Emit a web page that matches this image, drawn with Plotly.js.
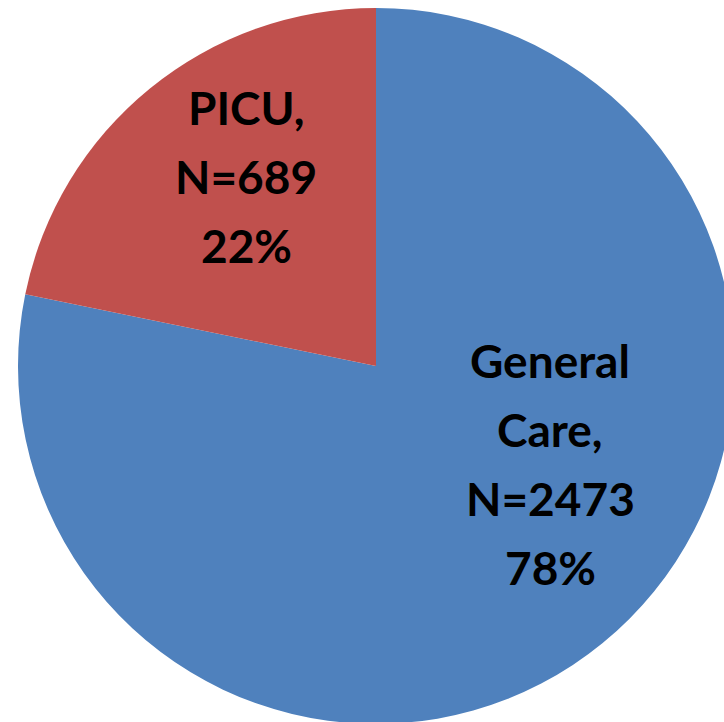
<!DOCTYPE html>
<html>
<head>
<meta charset="utf-8">
<script src="https://cdn.plot.ly/plotly-3.0.1.min.js"></script>
<style>
html, body { margin: 0; padding: 0; overflow: hidden; background: #fff; }
#chart { width: 752px; height: 732px; }
</style>
</head>
<body>
<div id="chart"></div>
<script>
// Data
const labels = ["General Care", "PICU"];
const values = [2473, 689];
const colors = ["#4F81BD", "#C0504D"];

// Label centres (pixels in the plot area) and line spacing
const W = 752, H = 732;
const labelCentres = [[550, 464], [246, 176]];
const lineGap = 69;

const total = values.reduce((a, b) => a + b, 0);
const annotations = [];
labels.forEach((lab, i) => {
  const words = lab.split(" ");
  words[words.length - 1] += ",";
  const pct = Math.round(values[i] / total * 100);
  const lines = words.concat(["N=" + values[i], pct + "%"]);
  const n = lines.length;
  lines.forEach((t, k) => {
    const py = labelCentres[i][1] + (k - (n - 1) / 2) * lineGap;
    annotations.push({
      text: t,
      xref: "paper", yref: "paper",
      x: labelCentres[i][0] / W,
      y: 1 - py / H,
      xanchor: "center", yanchor: "middle",
      showarrow: false,
      font: { family: "Lato, 'DejaVu Sans', sans-serif", size: 46, color: "#000000", weight: "bold" }
    });
  });
});

const trace = {
  type: "pie",
  labels: labels,
  values: values,
  sort: false,
  direction: "clockwise",
  rotation: 0,
  marker: { colors: colors, line: { width: 0 } },
  textinfo: "none",
  hoverinfo: "none",
  showlegend: false,
  domain: { x: [0, 1], y: [8 / H, 1 - 8 / H] }
};

const layout = {
  width: W, height: H,
  margin: { l: 0, r: 0, t: 0, b: 0, pad: 0 },
  paper_bgcolor: "#ffffff",
  plot_bgcolor: "#ffffff",
  showlegend: false,
  annotations: annotations
};

Plotly.newPlot("chart", [trace], layout, { staticPlot: true, displayModeBar: false });
</script>
</body>
</html>
